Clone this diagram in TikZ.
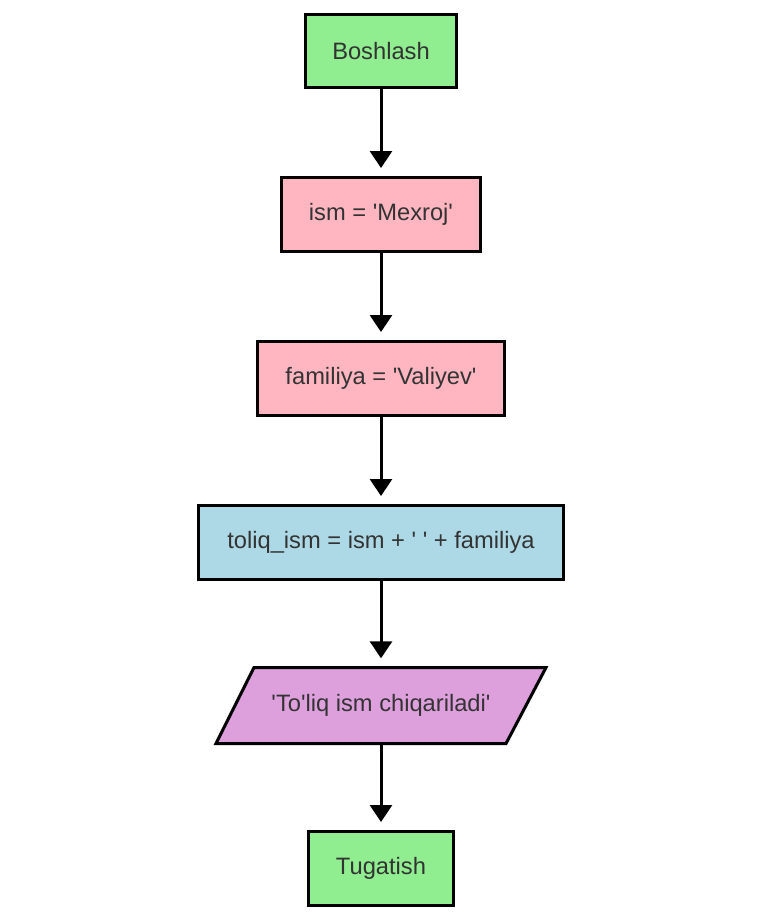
\documentclass[tikz,border=0pt]{standalone}
\usepackage{fontspec}
\setmainfont{Liberation Sans}[Ligatures=TeXOff]
\usetikzlibrary{arrows.meta,shadows,calc}
\definecolor{startgreen}{HTML}{90EE90}
\definecolor{procpink}{HTML}{FFB6C1}
\definecolor{procblue}{HTML}{ADD8E6}
\definecolor{outplum}{HTML}{DDA0DD}
\definecolor{txtgray}{HTML}{333333}
\tikzset{
  flowbox/.style={draw=black, line width=3pt, minimum height=74pt,
    text=txtgray, font=\fontsize{23.7}{28}\selectfont, inner sep=0pt,
    drop shadow={shadow xshift=1.5pt, shadow yshift=-1.5pt, opacity=0.12}},
  termbox/.style={flowbox, fill=startgreen},
  pinkbox/.style={flowbox, fill=procpink},
  bluebox/.style={flowbox, fill=procblue},
  flowarrow/.style={line width=3pt, -{Triangle[width=22pt,length=17pt]}, shorten >=8pt}
}
\begin{document}
\begin{tikzpicture}[x=1pt,y=-1pt]
  \useasboundingbox (0,0) rectangle (768,922);
  \fill[white] (0,0) rectangle (768,922);

  \node[termbox, minimum width=151pt, minimum height=73pt] (start) at (381,51) {Boshlash};
  \node[pinkbox, minimum width=199pt] (ism) at (381,214.5) {ism = 'Mexroj'};
  \node[pinkbox, minimum width=247pt] (fam) at (381,378.5) {familiya = 'Valiyev'};
  \node[bluebox, minimum width=365pt] (full) at (381,542.5) {toliq\_ism = ism + ' ' + familiya};

  % output parallelogram
  \coordinate (otl) at (254,667.5);
  \coordinate (otr) at (546,667.5);
  \coordinate (obr) at (506,743.5);
  \coordinate (obl) at (216,743.5);
  \filldraw[fill=outplum, draw=black, line width=3pt, line join=miter,
    drop shadow={shadow xshift=1.5pt, shadow yshift=-1.5pt, opacity=0.12}]
    (otl) -- (otr) -- (obr) -- (obl) -- cycle;
  \node[text=txtgray, font=\fontsize{23.7}{28}\selectfont, inner sep=0pt,
    minimum height=78pt, minimum width=240pt] (out) at (381,705.5) {'To'liq ism chiqariladi'};

  \node[termbox, minimum width=145pt] (end) at (381,868.5) {Tugatish};

  \draw[flowarrow] (start.south) -- (ism.north);
  \draw[flowarrow] (ism.south) -- (fam.north);
  \draw[flowarrow] (fam.south) -- (full.north);
  \draw[flowarrow] (full.south) -- (out.north);
  \draw[flowarrow] (out.south) -- (end.north);
\end{tikzpicture}
\end{document}
